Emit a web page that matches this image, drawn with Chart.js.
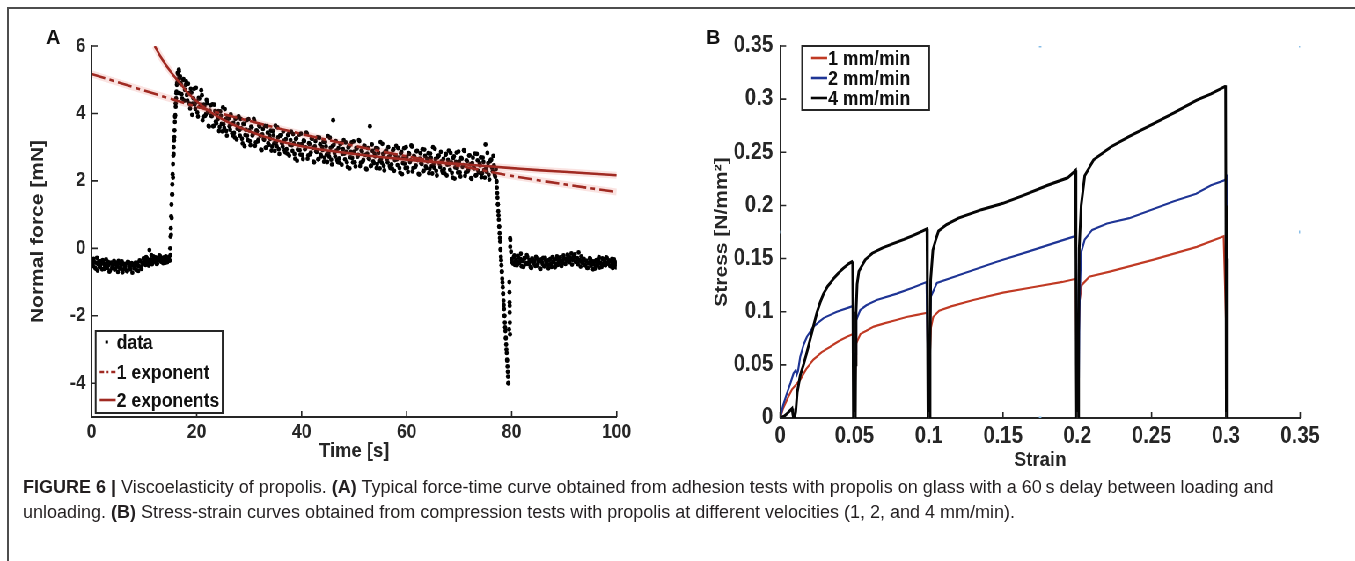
<!DOCTYPE html>
<html>
<head>
<meta charset="utf-8">
<title>Viscoelasticity of propolis</title>
<script src="https://cdn.jsdelivr.net/npm/chart.js@4.4.1/dist/chart.umd.min.js"></script>
<style>
  html, body { margin: 0; padding: 0; background: #fff; }
  body { position: relative; width: 1355px; height: 561px; overflow: hidden;
         font-family: 'Liberation Sans', Arial, Helvetica, sans-serif; }
  #frame { position: absolute; left: 7px; top: 7px; width: 1360px; height: 560px;
           border-top: 2px solid #4d4d4d; border-left: 2px solid #4d4d4d; }
  #fig { position: absolute; left: 0; top: 0; height: 500px; transform-origin: 0 0; }
  #fig canvas { position: absolute; }
  .letter { position: absolute; top: 27px; font-size: 20px; line-height: 20px; font-weight: bold; color: #111; }
  #caption { position: absolute; left: 23px; top: 475px; font-size: 18px; line-height: 25px;
             color: #231f20; white-space: nowrap; }
</style>
</head>
<body>
<div id="frame"></div>
<div id="fig">
  <canvas id="chartA"></canvas>
  <canvas id="chartB"></canvas>
</div>
<div class="letter" style="left:46px">A</div>
<div class="letter" style="left:706px">B</div>
<div id="caption"><b>FIGURE 6 |</b> Viscoelasticity of propolis. <b>(A)</b> Typical force-time curve obtained from adhesion tests with propolis on glass with a 60&#8201;s delay between loading and<br>unloading. <b>(B)</b> Stress-strain curves obtained from compression tests with propolis at different velocities (1, 2, and 4 mm/min).</div>

<script>
// ---------- Panel A: force-time curve ----------
const timeTicks = [0, 20, 40, 60, 80, 100];
const forceTicks = [-4, -2, 0, 2, 4, 6];

// measured normal force, one sample every 0.25 s starting at t = 0 s
const sampleStep = 0.25;
const samplesStart = 0;
const forceSamples = [
  -0.35, -0.52, -0.41, -0.60, -0.28, -0.47, -0.55, -0.38,
  -0.62, -0.44, -0.51, -0.33, -0.58, -0.49, -0.66, -0.42,
  -0.55, -0.37, -0.61, -0.48, -0.70, -0.45, -0.57, -0.39,
  -0.63, -0.52, -0.46, -0.68, -0.41, -0.59, -0.50, -0.72,
  -0.47, -0.56, -0.64, -0.43, -0.53, -0.38, -0.61, -0.45,
  -0.36, -0.49, -0.29, -0.42, -0.05, -0.33, -0.47, -0.24,
  -0.39, -0.28, -0.45, -0.31, -0.22, -0.40, -0.35, -0.27,
  -0.43, -0.30, -0.38, -0.25, -0.20,
  0.9, 2.1, 3.3, 4.3, 4.9, 5.15, 5.05,
  4.87, 4.44, 5.02, 4.70,  4.95, 4.38, 4.60, 4.15,  4.62, 4.29, 4.73, 4.14,
  4.35, 3.91, 4.44, 4.25,  4.54, 3.90, 4.23, 3.98,  4.31, 3.63, 4.08, 3.94,
  4.27, 3.63, 4.07, 3.71,  3.83, 3.48, 4.06, 3.69,  4.18, 3.57, 3.83, 3.34,
  3.85, 3.62, 3.97, 3.41,  3.72, 3.29, 3.87, 3.55,  3.91, 3.34, 3.56, 3.11,
  3.69, 3.36, 3.80, 3.21,  3.50, 3.06, 3.59, 3.40,  3.78, 3.14, 3.47, 3.22,
  3.61, 2.93, 3.38, 3.24,  3.63, 2.99, 3.43, 3.07,  3.25, 2.90, 3.48, 3.11,
  3.64, 3.03, 3.29, 2.80,  3.35, 3.12, 3.47, 2.91,  3.24, 2.81, 3.39, 3.07,
  3.46, 2.89, 3.11, 2.66,  3.26, 2.93, 3.37, 2.78,  3.09, 2.65, 3.18, 2.99,
  3.40, 2.76, 3.09, 2.84,  3.25, 2.57, 3.02, 2.88,  3.29, 2.65, 3.09, 2.73,
  2.92, 2.57, 3.15, 2.78,  3.33, 2.72, 2.98, 2.49,  3.80, 2.83, 3.18, 2.62,
  2.97, 2.54, 3.12, 2.80,  3.21, 2.64, 2.86, 2.41,  3.03, 2.70, 3.14, 2.55,
  2.87, 2.43, 2.96, 2.77,  3.18, 2.54, 2.87, 2.62,  3.04, 2.36, 2.81, 2.67,
  3.62, 2.45, 2.89, 2.53,  2.73, 2.38, 2.96, 2.59,  3.15, 2.54, 2.80, 2.31,
  2.88, 2.65, 3.00, 2.44,  2.79, 2.36, 2.94, 2.62,  3.04, 2.47, 2.69, 2.24,
  2.86, 2.53, 2.97, 2.38,  2.71, 2.27, 2.80, 2.61,  3.02, 2.38, 2.71, 2.46,
  2.89, 2.21, 2.66, 2.52,  2.94, 2.30, 2.74, 2.38,  2.58, 2.23, 2.81, 2.44,
  3.00, 2.39, 2.65, 2.16,  2.74, 2.51, 2.86, 2.30,  2.65, 2.22, 2.80, 2.48,
  2.90, 2.33, 2.55, 2.10,  2.73, 2.40, 2.84, 2.25,  2.57, 2.13, 2.66, 2.47,
  2.89, 2.25, 2.58, 2.33,  2.76, 2.08, 2.53, 2.39,  2.81, 2.17, 2.61, 2.25,
  2.46, 2.11, 2.69, 2.32,  3.08, 2.27, 2.53, 2.04,  2.62, 2.39, 2.74, 2.18,
  2.35,
  1.64, 0.98, 0.31, -0.35, -1.01, -1.68, -2.34, -3.00, -3.66, -2.40, 0.25,
  -0.32, -0.45, -0.21, -0.38, -0.50, -0.27, -0.41, -0.16,
  -0.36, -0.55, -0.30, -0.44, -0.25, -0.47, -0.39, -0.58,
  -0.33, -0.42, -0.52, -0.29, -0.46, -0.35, -0.61, -0.40,
  -0.28, -0.53, -0.37, -0.48, -0.59, -0.34, -0.45, -0.26,
  -0.41, -0.56, -0.31, -0.49, -0.38, -0.27, -0.52, -0.43,
  -0.30, -0.46, -0.36, -0.22, -0.41, -0.33, -0.48, -0.27,
  -0.18, -0.39, -0.29, -0.12, -0.35, -0.24, -0.43, -0.31,
  -0.50, -0.37, -0.58, -0.44, -0.32, -0.47, -0.62, -0.39,
  -0.53, -0.41, -0.35, -0.57, -0.45, -0.30, -0.49, -0.38,
  -0.27, -0.44, -0.36, -0.52, -0.40, -0.58, -0.33, -0.47,
  -0.42
];

// interleaved samples, every 0.25 s starting at t = 0.125 s
const samples2Start = 0.125;
const forceSamples2 = [
  -0.48, -0.31, -0.57, -0.43, -0.66, -0.39, -0.52, -0.45,
  -0.35, -0.61, -0.47, -0.55, -0.40, -0.69, -0.44, -0.58,
  -0.50, -0.63, -0.42, -0.54, -0.37, -0.60, -0.48, -0.71,
  -0.46, -0.57, -0.65, -0.40, -0.53, -0.62, -0.44, -0.51,
  -0.59, -0.42, -0.49, -0.67, -0.36, -0.55, -0.43, -0.30,
  -0.44, -0.26, -0.38, -0.51, -0.34, -0.20, -0.41, -0.32,
  -0.27, -0.46, -0.35, -0.21, -0.37, -0.29, -0.44, -0.33,
  -0.24, -0.41, -0.28, -0.36,
  0.4, 1.6, 2.8, 3.9, 4.6, 5.0, 5.25, 4.9,
  4.57, 4.99, 4.38, 4.84,  4.55, 4.88, 4.29, 4.73,  3.96, 4.45, 4.27, 4.76,
  4.03, 4.46, 4.20, 4.69,  3.80, 4.26, 3.93, 4.40,  4.04, 3.61, 4.24, 3.92,
  3.62, 4.26, 3.76, 3.99,  4.07, 3.60, 3.93, 3.47,  3.68, 4.13, 3.48, 3.88,
  3.86, 3.52, 3.69, 3.35,  3.42, 3.84, 3.23, 3.69,  3.51, 3.84, 3.25, 3.69,
  3.03, 3.52, 3.34, 3.83,  3.18, 3.61, 3.35, 3.84,  3.04, 3.50, 3.17, 3.64,
  3.34, 2.91, 3.54, 3.22,  2.98, 3.62, 3.12, 3.35,  3.49, 3.02, 3.35, 2.89,
  3.14, 3.59, 2.94, 3.34,  3.36, 3.02, 3.19, 2.85,  2.94, 3.36, 2.75, 3.21,
  3.06, 3.39, 2.80, 3.24,  2.60, 3.09, 2.91, 3.40,  2.77, 3.20, 2.94, 3.43,
  2.66, 3.12, 2.79, 3.26,  2.98, 2.55, 3.18, 2.86,  2.64, 3.28, 2.78, 3.01,
  3.16, 2.69, 3.02, 2.56,  2.83, 3.28, 2.63, 3.03,  3.07, 2.73, 2.90, 2.56,
  2.67, 3.09, 2.48, 2.94,  2.81, 3.14, 2.55, 2.99,  2.37, 2.86, 2.68, 3.17,
  2.55, 2.98, 2.72, 3.21,  2.44, 2.90, 2.57, 3.04,  2.77, 2.34, 2.97, 2.65,
  2.44, 3.08, 2.58, 2.81,  2.97, 2.50, 2.83, 2.37,  2.65, 3.10, 2.45, 2.85,
  2.89, 2.55, 2.72, 2.38,  2.49, 2.91, 2.30, 2.76,  2.64, 2.97, 2.38, 2.82,
  2.20, 2.69, 2.51, 3.00,  2.39, 2.82, 2.56, 3.05,  2.28, 2.74, 2.41, 2.88,
  2.62, 2.19, 2.82, 2.50,  2.29, 2.93, 2.43, 2.66,  2.82, 2.35, 2.68, 2.22,
  2.50, 2.95, 2.30, 2.70,  2.75, 2.41, 2.58, 2.24,  2.35, 2.77, 2.16, 2.62,
  2.50, 2.83, 2.24, 2.68,  2.07, 2.56, 2.38, 2.87,  2.25, 2.68, 2.42, 2.91,
  2.15, 2.61, 2.28, 2.75,  2.49, 2.06, 2.69, 2.37,  2.16, 2.80, 2.30, 2.53,
  2.70, 2.23, 2.56, 2.10,  2.38, 2.83, 2.18, 2.58,  2.63, 2.29, 2.46, 2.12,
  1.97, 1.31, 0.64, -0.02, -0.68, -1.34, -2.00, -2.67, -3.33, -3.99, -1.70, -0.10,
  -0.41, -0.26, -0.49, -0.35, -0.22, -0.44, -0.31, -0.53,
  -0.38, -0.29, -0.47, -0.20, -0.43, -0.34, -0.56, -0.30,
  -0.45, -0.37, -0.25, -0.51, -0.39, -0.60, -0.33, -0.46,
  -0.52, -0.28, -0.42, -0.36, -0.48, -0.31, -0.55, -0.40,
  -0.34, -0.47, -0.24, -0.43, -0.29, -0.50, -0.37, -0.21,
  -0.45, -0.32, -0.19, -0.38, -0.27, -0.15, -0.34, -0.23,
  -0.40, -0.30, -0.47, -0.36, -0.54, -0.42, -0.33, -0.49,
  -0.37, -0.58, -0.44, -0.29, -0.51, -0.39, -0.46, -0.60,
  -0.35, -0.48, -0.26, -0.43, -0.55, -0.32, -0.41, -0.50,
  -0.28, -0.45, -0.37, -0.53, -0.31, -0.47, -0.40, -0.56
];

// extra samples on the steep loading and unloading flanks
const flankTime = [
  14.95, 15.02, 15.08, 15.14, 15.2, 15.3, 15.36, 15.42, 15.5, 15.56, 15.62, 15.7,
  15.78, 15.85, 15.92, 16.0, 16.08, 16.15, 16.22, 16.35, 16.45, 16.6, 16.7, 16.85,
  77.1, 77.18, 77.3, 77.38, 77.45, 77.55, 77.62, 77.7, 77.8, 77.88, 77.95, 78.05,
  78.12, 78.2, 78.3, 78.38, 78.45, 78.55, 78.62, 78.7, 78.8, 78.88, 78.95, 79.05,
  79.12, 79.2, 79.3, 79.35, 79.55, 79.58, 79.6, 79.62, 79.65, 79.68, 79.7, 79.72
];
const flankForce = [
  0.0, 0.35, 0.6, 0.95, 1.3, 1.6, 1.9, 2.2, 2.5, 2.75, 3.0, 3.2,
  3.5, 3.75, 3.95, 4.2, 4.45, 4.65, 4.85, 5.2, 4.95, 5.3, 4.6, 5.1,
  2.0, 1.8, 1.5, 1.3, 1.1, 0.85, 0.65, 0.45, 0.2, -0.05, -0.25, -0.5,
  -0.7, -0.9, -1.15, -1.35, -1.55, -1.8, -2.0, -2.2, -2.45, -2.65, -2.85, -3.1,
  -3.3, -3.5, -3.8, -4.0, -1.0, -1.3, -1.6, -1.9, -2.2, -2.55, 0.3, 0.05
];

// fitted relaxation curves
const oneExpTime = [0, 10, 20, 30, 40, 50, 60, 70, 80, 90, 100];
const oneExpForce = [5.17, 4.68, 4.2, 3.78, 3.39, 3.04, 2.73, 2.45, 2.15, 1.9, 1.67];
const twoExpTime = [12, 13, 14, 15, 16, 17, 18, 20, 22, 25, 30, 35, 40, 45, 50, 55, 60, 65, 70, 75, 80, 85, 90, 95, 100];
const twoExpForce = [6.0, 5.72, 5.47, 5.25, 5.05, 4.87, 4.66, 4.36, 4.11, 3.82, 3.47, 3.21, 3.03, 2.9, 2.8, 2.71, 2.63, 2.56, 2.5, 2.44, 2.38, 2.32, 2.27, 2.22, 2.17];

// ---------- Panel B: stress-strain curves ----------
const strainTicks = [0, 0.05, 0.1, 0.15, 0.2, 0.25, 0.3, 0.35];
const stressTicks = [0, 0.05, 0.1, 0.15, 0.2, 0.25, 0.3, 0.35];

const redStrain = [0, 0.002, 0.0045, 0.008, 0.011, 0.0135, 0.0175, 0.0224, 0.028, 0.0337, 0.039, 0.0449, 0.049, 0.0494, 0.0497, 0.0503, 0.0507, 0.0512, 0.054, 0.058, 0.063, 0.07, 0.0776, 0.085, 0.092, 0.099, 0.0994, 0.0997, 0.1003, 0.1008, 0.1015, 0.103, 0.107, 0.115, 0.13, 0.15, 0.17, 0.19, 0.199, 0.1994, 0.1997, 0.2003, 0.2008, 0.2015, 0.203, 0.208, 0.2225, 0.2514, 0.2804, 0.2985, 0.3003, 0.3005];
const redStress = [0, 0.009, 0.017, 0.027, 0.032, 0.036, 0.046, 0.055, 0.062, 0.067, 0.072, 0.0765, 0.079, 0.04, 0, 0, 0.05, 0.07, 0.079, 0.082, 0.086, 0.089, 0.092, 0.095, 0.097, 0.099, 0.05, 0, 0, 0.06, 0.085, 0.095, 0.101, 0.105, 0.111, 0.118, 0.123, 0.128, 0.131, 0.06, 0, 0, 0.07, 0.11, 0.125, 0.133, 0.138, 0.149, 0.161, 0.171, 0.08, 0];

const blueStrain = [0, 0.002, 0.0045, 0.007, 0.009, 0.0105, 0.0112, 0.012, 0.0135, 0.0158, 0.018, 0.0224, 0.0292, 0.0381, 0.0483, 0.049, 0.0494, 0.0497, 0.0503, 0.0507, 0.0512, 0.0539, 0.058, 0.065, 0.0785, 0.09, 0.0985, 0.0992, 0.0996, 0.1004, 0.1008, 0.1014, 0.1055, 0.1234, 0.1458, 0.168, 0.1974, 0.1992, 0.1996, 0.2004, 0.2008, 0.2014, 0.2025, 0.205, 0.21, 0.22, 0.235, 0.25, 0.265, 0.28, 0.29, 0.2998, 0.3003, 0.3005];
const blueStress = [0, 0.012, 0.023, 0.033, 0.042, 0.045, 0.041, 0.044, 0.0577, 0.069, 0.0765, 0.086, 0.094, 0.1, 0.105, 0.106, 0.06, 0, 0, 0.06, 0.092, 0.1016, 0.106, 0.111, 0.117, 0.123, 0.128, 0.07, 0, 0, 0.08, 0.114, 0.127, 0.136, 0.147, 0.157, 0.1706, 0.172, 0.08, 0, 0, 0.1, 0.155, 0.168, 0.177, 0.183, 0.188, 0.196, 0.204, 0.211, 0.219, 0.224, 0.229, 0.1, 0];

const blackStrain = [0, 0.003, 0.006, 0.008, 0.0085, 0.009, 0.0097, 0.0105, 0.0115, 0.0135, 0.0157, 0.018, 0.0202, 0.0225, 0.0247, 0.027, 0.0292, 0.032, 0.0359, 0.039, 0.0426, 0.046, 0.0483, 0.0488, 0.049, 0.0492, 0.0494, 0.0506, 0.0508, 0.0511, 0.0518, 0.053, 0.0573, 0.062, 0.0689, 0.076, 0.0833, 0.09, 0.096, 0.0988, 0.0991, 0.0993, 0.0995, 0.1007, 0.1009, 0.1013, 0.1028, 0.105, 0.1066, 0.112, 0.12, 0.1355, 0.15, 0.1645, 0.18, 0.1935, 0.1988, 0.1991, 0.1993, 0.1995, 0.2007, 0.2009, 0.2013, 0.2026, 0.205, 0.211, 0.2225, 0.235, 0.2514, 0.265, 0.2804, 0.29, 0.2994, 0.2998, 0.3, 0.3003, 0.3006, 0.3009, 0.3011];
const blackStress = [0, 0.002, 0.006, 0.009, 0.004, 0, 0, 0.006, 0.024, 0.04, 0.05, 0.062, 0.074, 0.087, 0.099, 0.109, 0.117, 0.124, 0.131, 0.136, 0.141, 0.145, 0.147, 0.146, 0.1, 0.05, 0, 0, 0.05, 0.1, 0.126, 0.138, 0.149, 0.155, 0.16, 0.164, 0.168, 0.172, 0.176, 0.178, 0.12, 0.05, 0, 0, 0.06, 0.13, 0.158, 0.169, 0.176, 0.182, 0.188, 0.196, 0.202, 0.21, 0.219, 0.226, 0.233, 0.15, 0.05, 0, 0, 0.08, 0.16, 0.2, 0.228, 0.243, 0.255, 0.265, 0.277, 0.287, 0.299, 0.305, 0.312, 0.313, 0.2, 0, 0, 0.15, 0];

// stray light-blue markers left on the plot
const markerStrain = [0.175, 0.35, 0.35, 0, 0.175];
const markerStress = [0.35, 0.35, 0.175, 0.175, 0];

// ---------- layout (reference pixels) ----------
const K = 0.88;               // the figure image is squeezed horizontally
const CANVAS_TOP = 10, CANVAS_H = 480;
const AXIS = '#262626';
const FONT = "'Liberation Sans', Arial, Helvetica, sans-serif";
const RED_FIT = '#a02a22';

const pairs = (xs, ys) => xs.map((x, i) => ({ x: x, y: ys[i] }));
const sampled = (start, ys) => ys.map((y, i) => ({ x: start + i * sampleStep, y: y }));
const fmt = v => String(+(+v).toFixed(2));

const fig = document.getElementById('fig');
fig.style.width = (1355 / K) + 'px';
fig.style.transform = 'scaleX(' + K + ')';

function setupCanvas(id, box) {
  const el = document.getElementById(id);
  el.width = Math.round(box.width / K);
  el.height = CANVAS_H;
  el.style.left = (box.left / K) + 'px';
  el.style.top = CANVAS_TOP + 'px';
  return el;
}

// MATLAB style: ticks point into the plot
const inwardTicks = {
  id: 'inwardTicks',
  afterDraw(chart) {
    const { ctx, chartArea: a, scales } = chart;
    ctx.save();
    ctx.strokeStyle = AXIS;
    ctx.lineWidth = 1.6;
    ctx.beginPath();
    scales.x.ticks.forEach(t => {
      const p = scales.x.getPixelForValue(t.value);
      ctx.moveTo(p, a.bottom); ctx.lineTo(p, a.bottom - 6);
    });
    scales.y.ticks.forEach(t => {
      const p = scales.y.getPixelForValue(t.value);
      ctx.moveTo(a.left, p); ctx.lineTo(a.left + 6 / K, p);
    });
    ctx.stroke();
    ctx.restore();
  }
};

// boxed legend inside the axes; positions given in reference pixels
function boxLegend(box, spec) {
  const cx = v => (v - box.left) / K;
  const cy = v => v - CANVAS_TOP;
  return {
    id: 'boxLegend',
    afterDraw(chart) {
      const ctx = chart.ctx;
      const [x0, y0, x1, y1] = spec.box;
      ctx.save();
      ctx.fillStyle = '#fff';
      ctx.fillRect(cx(x0), cy(y0), cx(x1) - cx(x0), y1 - y0);
      ctx.strokeStyle = AXIS;
      ctx.lineWidth = 2;
      ctx.strokeRect(cx(x0), cy(y0), cx(x1) - cx(x0), y1 - y0);
      ctx.font = 'bold ' + spec.size + 'px ' + FONT;
      ctx.textBaseline = 'middle';
      spec.items.forEach(it => {
        if (it.marker === 'dot') {
          ctx.fillStyle = '#000';
          ctx.fillRect(cx(it.dotX) - 1.5, cy(it.y) - 1.5, 3, 3);
        } else {
          ctx.beginPath();
          ctx.setLineDash(it.dash || []);
          ctx.strokeStyle = it.color;
          ctx.lineWidth = 2.6;
          ctx.moveTo(cx(spec.lineX[0]), cy(it.y));
          ctx.lineTo(cx(spec.lineX[1]), cy(it.y));
          ctx.stroke();
          ctx.setLineDash([]);
        }
        ctx.fillStyle = '#111';
        ctx.fillText(it.text, cx(spec.textX), cy(it.y) + 1);
      });
      ctx.restore();
    }
  };
}

function axis(o) {
  const horizontal = o.horizontal;
  return {
    type: 'linear',
    min: o.min,
    max: o.max,
    afterFit: s => { if (horizontal) s.height = o.size; else s.width = o.size; },
    afterBuildTicks: s => { s.ticks = o.ticks.map(v => ({ value: v })); },
    grid: { display: false, drawTicks: false },
    border: { display: true, color: AXIS, width: 2 },
    ticks: {
      color: AXIS, padding: o.tickPad, autoSkip: false, maxRotation: 0,
      font: { family: FONT, size: o.tickSize, weight: 'bold' },
      callback: v => fmt(v)
    },
    title: {
      display: true, text: o.title, color: AXIS,
      font: { family: FONT, size: o.titleSize, weight: 'bold' },
      padding: horizontal ? { top: 0, bottom: o.titlePad } : { top: o.titlePad, bottom: 0 }
    }
  };
}

function buildOptions(box, plot, ax) {
  const w = Math.round(box.width / K);
  const tickLh = ax.tickSize * 1.2, titleLh = ax.titleSize * 1.2;
  return {
    responsive: false,
    animation: false,
    events: [],
    layout: { padding: { left: 0, top: plot.top - CANVAS_TOP, bottom: 0,
                         right: w - (plot.right - box.left) / K } },
    plugins: { legend: { display: false }, tooltip: { enabled: false } },
    scales: {
      x: axis({ horizontal: true, min: ax.xMin, max: ax.xMax, ticks: ax.xTicks,
                size: CANVAS_TOP + CANVAS_H - plot.bottom,
                tickSize: ax.tickSize, tickPad: ax.xLabelY - plot.bottom - tickLh / 2,
                title: ax.xTitle, titleSize: ax.titleSize,
                titlePad: CANVAS_TOP + CANVAS_H - ax.xTitleY - titleLh / 2 }),
      y: axis({ horizontal: false, min: ax.yMin, max: ax.yMax, ticks: ax.yTicks,
                size: (plot.left - box.left) / K,
                tickSize: ax.tickSize, tickPad: (plot.left - ax.yLabelRight) / K,
                title: ax.yTitle, titleSize: ax.titleSize,
                titlePad: (ax.yTitleX - box.left) / K - titleLh / 2 })
    }
  };
}

// ---------- chart A ----------
const boxA = { left: 10, width: 650 };
const plotA = { left: 92, right: 617, top: 46, bottom: 417 };

const dataPoints = sampled(samplesStart, forceSamples)
  .concat(sampled(samples2Start, forceSamples2))
  .concat(pairs(flankTime, flankForce));

const optsA = buildOptions(boxA, plotA, {
  xMin: 0, xMax: 100, xTicks: timeTicks, yMin: -5, yMax: 6, yTicks: forceTicks,
  tickSize: 20, titleSize: 21,
  xLabelY: 432, xTitleY: 451, xTitle: 'Time [s]',
  yLabelRight: 86, yTitleX: 38, yTitle: 'Normal force [mN]'
});

new Chart(setupCanvas('chartA', boxA), {
  type: 'scatter',
  data: {
    datasets: [
      { label: 'data', data: dataPoints, showLine: false, pointRadius: 2.4,
        pointBackgroundColor: '#000', pointBorderWidth: 0, order: 4 },
      { label: 'glow 1', data: pairs(oneExpTime, oneExpForce), showLine: true, pointRadius: 0,
        borderColor: 'rgba(222, 80, 70, 0.16)', borderWidth: 7, cubicInterpolationMode: 'monotone', order: 3 },
      { label: 'glow 2', data: pairs(twoExpTime, twoExpForce), showLine: true, pointRadius: 0,
        borderColor: 'rgba(222, 80, 70, 0.16)', borderWidth: 7, cubicInterpolationMode: 'monotone', order: 2 },
      { label: '1 exponent', data: pairs(oneExpTime, oneExpForce), showLine: true, pointRadius: 0,
        borderColor: RED_FIT, borderWidth: 2.6, borderDash: [16, 5, 5, 5],
        cubicInterpolationMode: 'monotone', order: 1 },
      { label: '2 exponents', data: pairs(twoExpTime, twoExpForce), showLine: true, pointRadius: 0,
        borderColor: RED_FIT, borderWidth: 2.6, cubicInterpolationMode: 'monotone', order: 0 }
    ]
  },
  options: optsA,
  plugins: [inwardTicks, boxLegend(boxA, {
    box: [96, 331, 223, 413], size: 20, textX: 117, lineX: [100, 116],
    items: [
      { marker: 'dot', dotX: 107, y: 342, text: 'data' },
      { marker: 'line', color: RED_FIT, dash: [5, 3, 2, 3], y: 372, text: '1 exponent' },
      { marker: 'line', color: RED_FIT, y: 400, text: '2 exponents' }
    ]
  })]
});

// ---------- chart B ----------
const boxB = { left: 688, width: 667 };
const plotB = { left: 780, right: 1300, top: 46, bottom: 418 };
const RED_B = '#c03a24', BLUE_B = '#1f3595', BLACK_B = '#050505';

const optsB = buildOptions(boxB, plotB, {
  xMin: 0, xMax: 0.35, xTicks: strainTicks, yMin: 0, yMax: 0.35, yTicks: stressTicks,
  tickSize: 23, titleSize: 21,
  xLabelY: 437, xTitleY: 460, xTitle: 'Strain',
  yLabelRight: 773, yTitleX: 722, yTitle: 'Stress [N/mm\u00B2]'
});

new Chart(setupCanvas('chartB', boxB), {
  type: 'scatter',
  data: {
    datasets: [
      { label: 'markers', data: pairs(markerStrain, markerStress), showLine: false,
        pointStyle: 'rect', pointRadius: 2, pointBackgroundColor: '#86bde8',
        pointBorderWidth: 0, order: 4 },
      { label: '1 mm/min', data: pairs(redStrain, redStress), showLine: true, pointRadius: 0,
        borderColor: RED_B, borderWidth: 2.2, order: 3 },
      { label: '2 mm/min', data: pairs(blueStrain, blueStress), showLine: true, pointRadius: 0,
        borderColor: BLUE_B, borderWidth: 2.2, order: 2 },
      { label: '4 mm/min', data: pairs(blackStrain, blackStress), showLine: true, pointRadius: 0,
        borderColor: BLACK_B, borderWidth: 3, order: 1 }
    ]
  },
  options: optsB,
  plugins: [inwardTicks, boxLegend(boxB, {
    box: [802, 46, 929, 110], size: 20, textX: 828, lineX: [811, 827],
    items: [
      { marker: 'line', color: RED_B, y: 58, text: '1 mm/min' },
      { marker: 'line', color: BLUE_B, y: 78, text: '2 mm/min' },
      { marker: 'line', color: BLACK_B, y: 98, text: '4 mm/min' }
    ]
  })]
});
</script>
</body>
</html>
